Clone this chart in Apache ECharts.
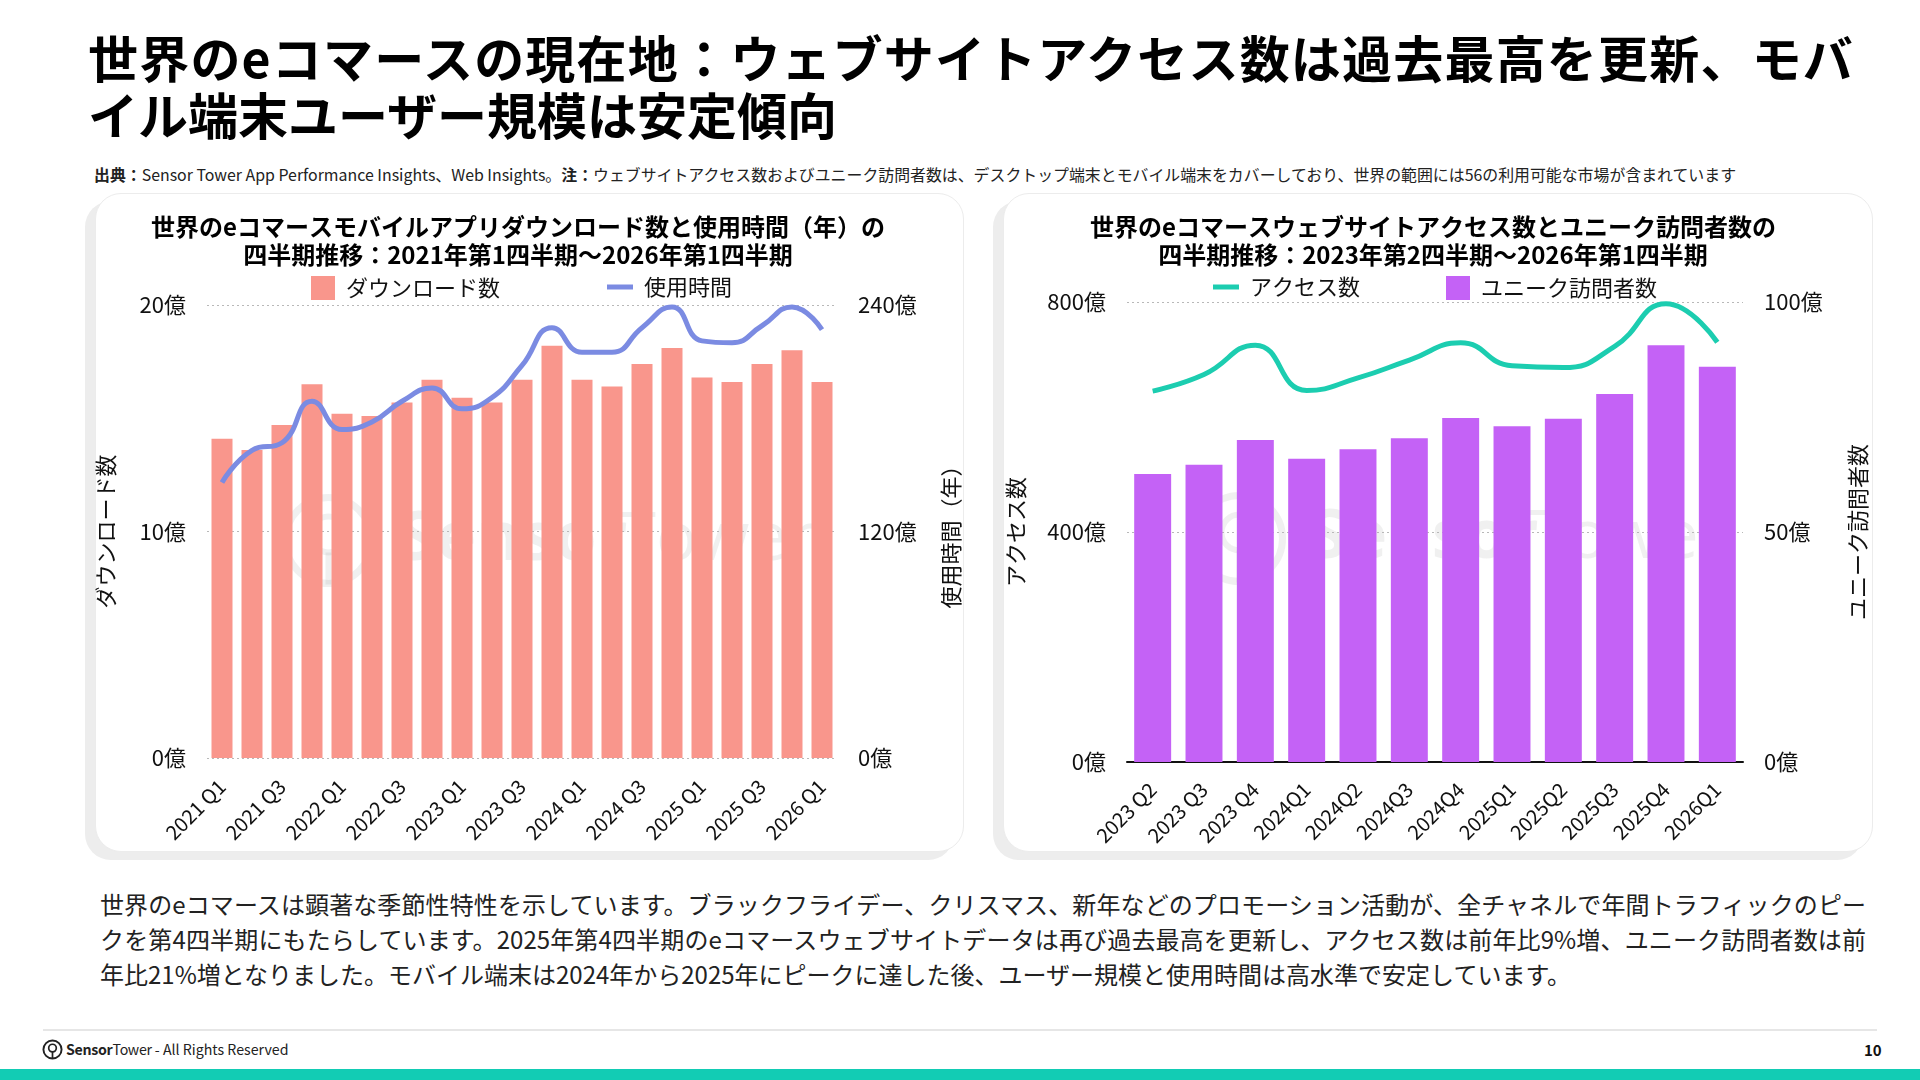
<!DOCTYPE html>
<html>
<head>
<meta charset="utf-8">
<script src="https://cdn.jsdelivr.net/npm/echarts@6/dist/echarts.min.js"></script>
<style>
    body { margin: 0; width: 1920px; height: 1080px; position: relative; background: #fff; font-family: "Noto Sans CJK JP", "Noto Sans", sans-serif; color: #111; overflow: hidden; }
    .card { position: absolute; top: 193px; height: 657px; border: 1px solid #ececec; border-radius: 26px; box-shadow: -10px 8px 0 #ededed; background: #fff; }
    .para div { width: 1766px; height: 35px; line-height: 35px; font-size: 24px; text-align: justify; text-align-last: justify; white-space: nowrap; }
    .para div.last { text-align-last: left; }
</style>
</head>
<body>
<div style="position:absolute;left:88px;top:28px;font-size:50px;font-weight:700;line-height:57px;color:#000;white-space:nowrap;">
    <div style="letter-spacing:1.2px;">世界のeコマースの現在地：ウェブサイトアクセス数は過去最高を更新、モバ</div>
    <div>イル端末ユーザー規模は安定傾向</div>
</div>
<div style="position:absolute;left:94px;top:164px;font-size:15.9px;line-height:22px;color:#222;white-space:nowrap;"><b>出典：</b>Sensor Tower App Performance Insights、Web Insights。<b>注：</b>ウェブサイトアクセス数およびユニーク訪問者数は、デスクトップ端末とモバイル端末をカバーしており、世界の範囲には56の利用可能な市場が含まれています</div>

<div class="card" style="left:95px;width:867px;"></div>
<div class="card" style="left:1003px;width:868px;"></div>

<div class="para" style="position:absolute;left:100px;top:886px;color:#222;">
    <div>世界のeコマースは顕著な季節性特性を示しています。ブラックフライデー、クリスマス、新年などのプロモーション活動が、全チャネルで年間トラフィックのピー</div>
    <div>クを第4四半期にもたらしています。2025年第4四半期のeコマースウェブサイトデータは再び過去最高を更新し、アクセス数は前年比9%増、ユニーク訪問者数は前</div>
    <div class="last">年比21%増となりました。モバイル端末は2024年から2025年にピークに達した後、ユーザー規模と使用時間は高水準で安定しています。</div>
</div>

<div style="position:absolute;left:43px;top:1029px;width:1834px;height:2px;background:#e6e6e6;"></div>
<div style="position:absolute;left:42px;top:1038px;height:22px;display:flex;align-items:center;font-size:14.2px;color:#222;white-space:nowrap;">
    <svg width="21" height="21" viewBox="0 0 22 22" style="margin-right:3px;"><circle cx="11" cy="11" r="9.5" fill="none" stroke="#222" stroke-width="2"/><circle cx="11" cy="9.5" r="4" fill="none" stroke="#222" stroke-width="1.8"/><line x1="11" y1="13.5" x2="11" y2="20.5" stroke="#222" stroke-width="1.8"/></svg>
    <b style="letter-spacing:-0.3px;">Sensor</b><span style="letter-spacing:-0.3px;">Tower</span>&nbsp;- All Rights Reserved
</div>
<div style="position:absolute;left:1864px;top:1039px;font-size:15px;font-weight:700;">10</div>
<div style="position:absolute;left:0;top:1069px;width:1920px;height:11px;background:#12ccb4;"></div>

<div id="chart" style="position:absolute;left:0;top:0;width:1920px;height:1080px;"></div>

<script>
    // モバイルアプリ（左）
    var appQuarters = ['2021 Q1', '2021 Q2', '2021 Q3', '2021 Q4', '2022 Q1', '2022 Q2', '2022 Q3', '2022 Q4',
        '2023 Q1', '2023 Q2', '2023 Q3', '2023 Q4', '2024 Q1', '2024 Q2', '2024 Q3', '2024 Q4',
        '2025 Q1', '2025 Q2', '2025 Q3', '2025 Q4', '2026 Q1'];
    var downloads = [14.1, 13.6, 14.7, 16.5, 15.2, 15.1, 15.7, 16.7, 15.9, 15.7, 16.7, 18.2, 16.7, 16.4, 17.4, 18.1, 16.8, 16.6, 17.4, 18.0, 16.6];
    var usageTime = [146, 163, 167, 189, 174, 178, 189, 196, 185, 191, 208, 228, 215, 215, 228, 239, 221, 220, 229, 239, 227];

    // ウェブサイト（右）
    var webQuarters = ['2023 Q2', '2023 Q3', '2023 Q4', '2024Q1', '2024Q2', '2024Q3', '2024Q4', '2025Q1', '2025Q2', '2025Q3', '2025Q4', '2026Q1'];
    var visits = [645, 674, 725, 646, 668, 699, 729, 689, 686, 723, 797, 730];
    var uniqueVisitors = [62.6, 64.6, 70.0, 65.9, 68.0, 70.4, 74.8, 73.0, 74.6, 80.0, 90.6, 85.9];

    var FONT = '"Noto Sans CJK JP", "Noto Sans", sans-serif';
    var labelStyle = { fontFamily: FONT, fontSize: 22, color: '#111' };
    var legendText = { fontFamily: FONT, fontSize: 22, color: '#111', padding: [0, 0, 0, 6] };
    var dotted = { show: true, lineStyle: { type: [2, 3], color: '#b8b8b8', width: 1 } };

    function yAxisOf(gridIndex, max, interval, name, nameGap, position, split) {
        return {
            type: 'value', gridIndex: gridIndex, position: position,
            min: 0, max: max, interval: interval,
            name: name, nameLocation: 'middle', nameGap: nameGap,
            nameTextStyle: { fontFamily: FONT, fontSize: 22, color: '#111' },
            axisLine: { show: false }, axisTick: { show: false },
            axisLabel: Object.assign({ formatter: '{value}億', margin: 21 }, labelStyle),
            splitLine: split ? dotted : { show: false }
        };
    }

    function watermark(x, y) {
        var c = 'rgba(110,110,110,0.1)';
        return {
            type: 'group', left: x, top: y, z: 100, silent: true,
            children: [
                { type: 'circle', shape: { cx: 46, cy: 46, r: 43 }, style: { fill: 'none', stroke: c, lineWidth: 7 } },
                { type: 'circle', shape: { cx: 46, cy: 40, r: 18 }, style: { fill: 'none', stroke: c, lineWidth: 6 } },
                { type: 'rect', shape: { x: 43, y: 58, width: 6, height: 32 }, style: { fill: c } },
                { type: 'text', x: 116, y: 12, style: { text: 'Sensor', fontFamily: '"Open Sans"', fontWeight: 700, fontSize: 68, fill: c } },
                { type: 'text', x: 336, y: 12, style: { text: 'Tower', fontFamily: '"Open Sans"', fontWeight: 400, fontSize: 68, fill: c } }
            ]
        };
    }

    var chart = echarts.init(document.getElementById('chart'), null, { renderer: 'canvas' });

    var option = {
        animation: false,
        textStyle: { fontFamily: FONT },
        title: [
            {
                text: '世界のeコマースモバイルアプリダウンロード数と使用時間（年）の\n四半期推移：2021年第1四半期〜2026年第1四半期',
                left: 513, top: 208, textAlign: 'center',
                textStyle: { fontFamily: FONT, fontSize: 24, fontWeight: 700, color: '#000', lineHeight: 28 }
            },
            {
                text: '世界のeコマースウェブサイトアクセス数とユニーク訪問者数の\n四半期推移：2023年第2四半期〜2026年第1四半期',
                left: 1428, top: 208, textAlign: 'center',
                textStyle: { fontFamily: FONT, fontSize: 24, fontWeight: 700, color: '#000', lineHeight: 28 }
            }
        ],
        legend: [
            { data: ['ダウンロード数'], left: 306, top: 271, icon: 'rect', itemWidth: 24, itemHeight: 24, textStyle: legendText },
            { data: ['使用時間'], left: 602, top: 271, icon: 'rect', itemWidth: 26, itemHeight: 5, textStyle: legendText },
            { data: ['アクセス数'], left: 1208, top: 271, icon: 'rect', itemWidth: 26, itemHeight: 5, textStyle: legendText },
            { data: ['ユニーク訪問者数'], left: 1441, top: 271, icon: 'rect', itemWidth: 24, itemHeight: 24, textStyle: legendText }
        ],
        grid: [
            { left: 207, right: 1920 - 837, top: 305, bottom: 1080 - 758 },
            { left: 1127, right: 1920 - 1743, top: 302, bottom: 1080 - 762 }
        ],
        xAxis: [
            {
                type: 'category', gridIndex: 0, data: appQuarters,
                axisLine: { show: false }, axisTick: { show: false },
                axisLabel: { interval: 1, rotate: 45, margin: 25, fontFamily: FONT, fontSize: 20, color: '#111' }
            },
            {
                type: 'category', gridIndex: 1, data: webQuarters,
                axisLine: { show: true, lineStyle: { color: '#111', width: 2 } }, axisTick: { show: false },
                axisLabel: { interval: 0, rotate: 45, margin: 24, fontFamily: FONT, fontSize: 20, color: '#111' }
            }
        ],
        yAxis: [
            yAxisOf(0, 20, 10, 'ダウンロード数', 90, 'left', true),
            yAxisOf(0, 240, 120, '使用時間（年）', 103, 'right', false),
            yAxisOf(1, 800, 400, 'アクセス数', 100, 'left', true),
            yAxisOf(1, 100, 50, 'ユニーク訪問者数', 104, 'right', false)
        ],
        series: [
            {
                name: 'ダウンロード数', type: 'bar', xAxisIndex: 0, yAxisIndex: 0,
                data: downloads, barCategoryGap: '30%',
                itemStyle: { color: '#f9968c' }
            },
            {
                name: '使用時間', type: 'line', xAxisIndex: 0, yAxisIndex: 1,
                data: usageTime, smooth: true, showSymbol: false, clip: false,
                lineStyle: { color: '#7b8be2', width: 5 }, itemStyle: { color: '#7b8be2' }
            },
            {
                name: 'ユニーク訪問者数', type: 'bar', xAxisIndex: 1, yAxisIndex: 3,
                data: uniqueVisitors, barCategoryGap: '28%',
                itemStyle: { color: '#c462f6' }
            },
            {
                name: 'アクセス数', type: 'line', xAxisIndex: 1, yAxisIndex: 2,
                data: visits, smooth: true, showSymbol: false, clip: false,
                lineStyle: { color: '#1ccdb0', width: 5 }, itemStyle: { color: '#1ccdb0' }
            }
        ],
        graphic: [watermark(282, 494), watermark(1193, 492)]
    };

    chart.setOption(option);
</script>
</body>
</html>
